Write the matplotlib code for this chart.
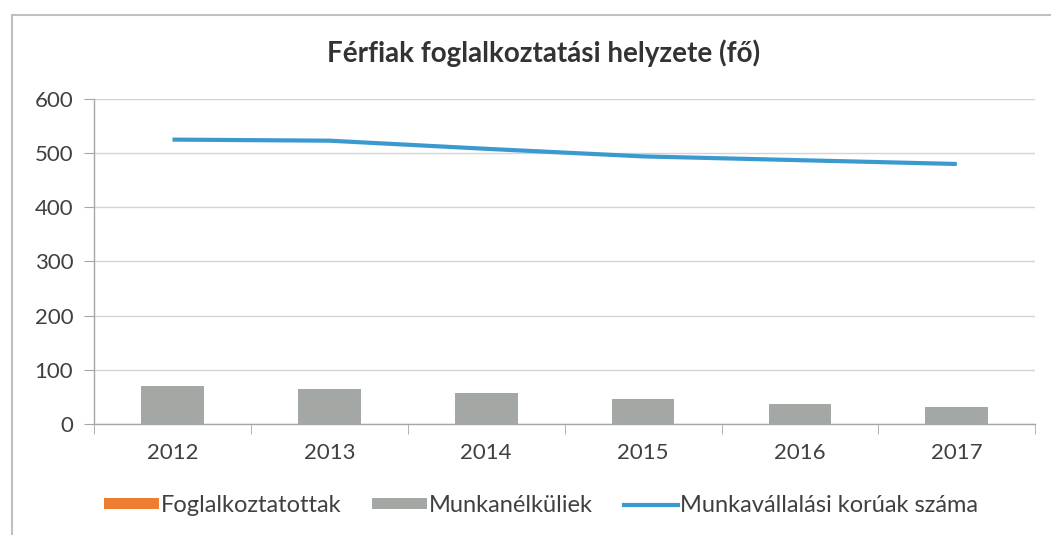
import numpy as np
import matplotlib.pyplot as plt
from matplotlib.lines import Line2D
from matplotlib.patches import Patch

plt.rcParams['font.family'] = ['Lato', 'DejaVu Sans']

years = ["2012", "2013", "2014", "2015", "2016", "2017"]
foglalkoztatottak = [np.nan, np.nan, np.nan, np.nan, np.nan, np.nan]
munkanelkuliek = [70, 64, 57, 47, 36, 31]
munkavallalasi = [525, 523, 508, 494, 487, 480]

c_orange = "#ED7D31"
c_gray = "#A3A8A5"
c_blue = "#3A9AD0"
c_grid = "#D4D4D4"
c_axis = "#A6A6A6"

fig = plt.figure(figsize=(10.51, 5.35), dpi=100)
ax = fig.add_axes([0.0895, 0.2075, 0.8955, 0.6075])

x = np.arange(len(years))
ax.bar(x, foglalkoztatottak, width=0.4, color=c_orange, zorder=2)
ax.bar(x, munkanelkuliek, width=0.4, color=c_gray, zorder=2)
ax.plot(x, munkavallalasi, color=c_blue, lw=3, zorder=3, solid_capstyle="butt")

ax.set_xlim(-0.5, len(years) - 0.5)
ax.set_ylim(0, 600)
ax.set_yticks(range(0, 601, 100))
ax.set_xticks(x)
ax.set_xticklabels(years)
ax.set_xticks(np.arange(-0.5, len(years), 1), minor=True)

ax.grid(axis="y", color=c_grid, lw=1, zorder=0)
for s in ["top", "right"]:
    ax.spines[s].set_visible(False)
for s in ["left", "bottom"]:
    ax.spines[s].set_color(c_axis)
    ax.spines[s].set_linewidth(1)

ax.tick_params(axis="x", which="major", length=0, pad=14, labelsize=16, labelcolor="#404040")
ax.tick_params(axis="x", which="minor", length=7, color=c_axis, direction="out")
ax.tick_params(axis="y", length=7, color=c_axis, pad=8, labelsize=16, labelcolor="#404040")

fig.text(0.517, 0.9, "Férfiak foglalkoztatási helyzete (fő)", ha="center", va="center",
         fontsize=20, fontweight="bold", color="#333333")

handles = [
    Patch(facecolor=c_orange, edgecolor="none"),
    Patch(facecolor=c_gray, edgecolor="none"),
    Line2D([0], [0], color=c_blue, lw=3),
]
labels = ["Foglalkoztatottak", "Munkanélküliek", "Munkavállalási korúak száma"]
fig.legend(handles, labels, loc="center", bbox_to_anchor=(0.515, 0.055), ncol=3,
           frameon=False, fontsize=17, handlelength=2.3, handleheight=0.3,
           handletextpad=0.1, columnspacing=1.3, labelcolor="#404040")

# chart area border
fig.add_artist(Line2D([12 / 1051, 1], [1 - 15 / 535, 1 - 15 / 535], color="#C0C0C0", lw=1.5,
                      transform=fig.transFigure))
fig.add_artist(Line2D([12 / 1051, 12 / 1051], [0, 1 - 15 / 535], color="#C0C0C0", lw=1.5,
                      transform=fig.transFigure))

fig.savefig("out.png", dpi=100)
